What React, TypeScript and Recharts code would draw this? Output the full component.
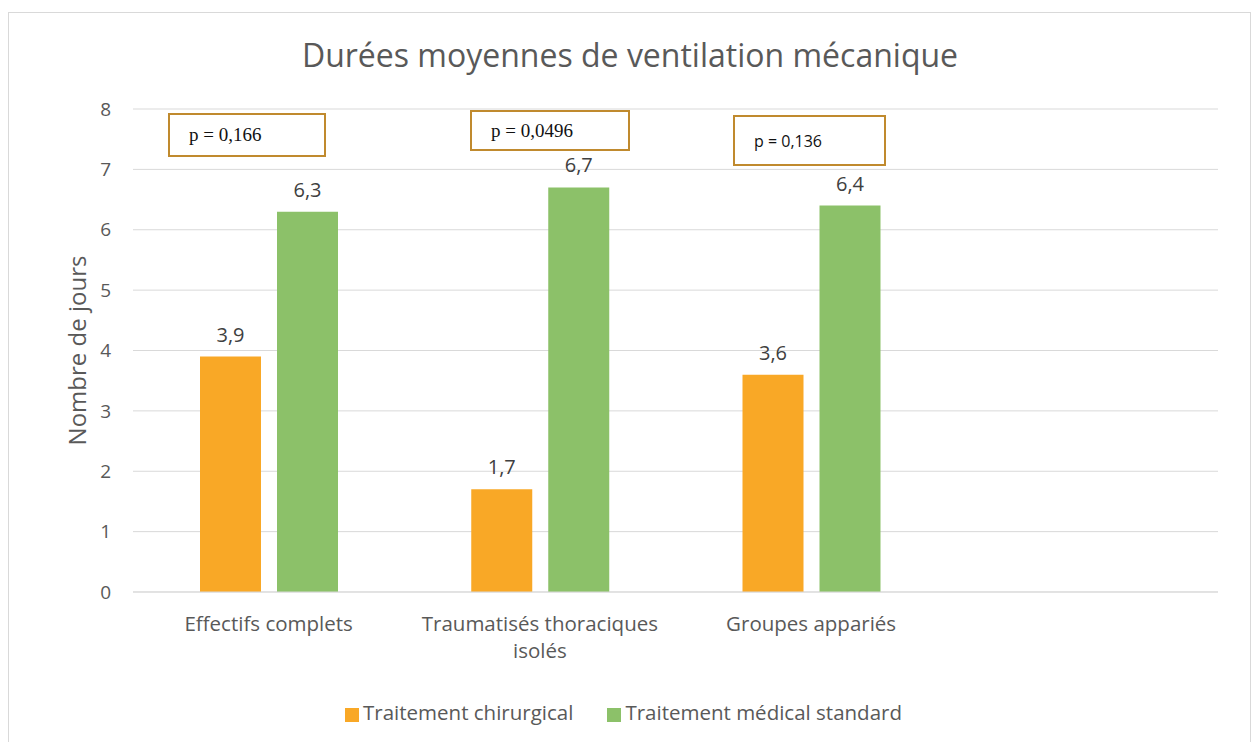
import {
  BarChart,
  Bar,
  XAxis,
  YAxis,
  CartesianGrid,
  Legend,
  LabelList,
  Label,
} from 'recharts';

// Données
const categories = ['Effectifs complets', 'Traumatisés thoraciques isolés', 'Groupes appariés', ''];
const chirurgical = [3.9, 1.7, 3.6, null];
const medicalStandard = [6.3, 6.7, 6.4, null];
const yTicks = [0, 1, 2, 3, 4, 5, 6, 7, 8];
const pValues = ['p = 0,166', 'p = 0,0496', 'p = 0,136'];

const FONT = '"Open Sans", "Noto Sans", sans-serif';
const GREY = '#595959';
const ORANGE = '#F9A826';
const GREEN = '#8CC169';

// emplacement des encadrés p (annotations posées à la main dans l'original)
const pBoxes = [
  { left: 168, top: 113, width: 158, height: 44, padLeft: 19, font: '"Liberation Serif", serif', size: 19 },
  { left: 470, top: 110, width: 160, height: 41, padLeft: 19, font: '"Liberation Serif", serif', size: 19 },
  { left: 733, top: 115, width: 153, height: 51, padLeft: 19, font: FONT, size: 16 },
];

const chartData = categories.map((name, i) => ({
  name,
  chir: chirurgical[i],
  med: medicalStandard[i],
}));

const fmt = (v: any) => (v == null ? '' : String(v).replace('.', ','));

function wrap(label: string, max = 24): string[] {
  const lines: string[] = [];
  let cur = '';
  label.split(' ').forEach((w) => {
    if (cur && (cur + ' ' + w).length > max) {
      lines.push(cur);
      cur = w;
    } else {
      cur = cur ? cur + ' ' + w : w;
    }
  });
  if (cur) lines.push(cur);
  return lines;
}

function CategoryTick({ x, y, payload }: any) {
  const lines = wrap(payload.value || '');
  return (
    <g>
      {lines.map((l, i) => (
        <text
          key={i}
          x={x}
          y={y + 31 + i * 27}
          textAnchor="middle"
          fill={GREY}
          fontSize={20.5}
          fontFamily={FONT}
        >
          {l}
        </text>
      ))}
    </g>
  );
}

export default function App() {
  return (
    <div style={{ position: 'absolute', left: 0, top: 0, width: 1256, height: 742, background: '#fff', overflow: 'hidden' }}>
      <div
        style={{
          position: 'absolute',
          left: 8,
          top: 12,
          width: 1241,
          height: 760,
          border: '1px solid #d9d9d9',
        }}
      />
      <div
        style={{
          position: 'absolute',
          left: 0,
          top: 33,
          width: 1260,
          textAlign: 'center',
          fontFamily: FONT,
          fontSize: 32,
          color: GREY,
        }}
      >
        Durées moyennes de ventilation mécanique
      </div>
      <BarChart
        width={1256}
        height={742}
        data={chartData}
        margin={{ top: 109, right: 38, bottom: 12, left: 63 }}
        barSize={61}
        barGap={16}
        style={{ position: 'absolute', left: 0, top: 0 }}
      >
        <CartesianGrid vertical={false} stroke="#d9d9d9" />
        <XAxis
          dataKey="name"
          height={106}
          tickLine={false}
          axisLine={{ stroke: '#d9d9d9' }}
          tick={<CategoryTick />}
          interval={0}
        />
        <YAxis
          width={70}
          domain={[0, 8]}
          ticks={yTicks}
          tickLine={false}
          axisLine={false}
          tickMargin={16}
          tick={{ fill: GREY, fontSize: 19, fontFamily: FONT }}
        >
          <Label
            value="Nombre de jours"
            angle={-90}
            position="insideLeft"
            offset={14}
            style={{ fill: GREY, fontSize: 24, fontFamily: FONT, textAnchor: 'middle' }}
          />
        </YAxis>
        <Legend
          verticalAlign="bottom"
          iconType="square"
          iconSize={14}
          wrapperStyle={{ height: 32, fontFamily: FONT, fontSize: 20.5 }}
          formatter={(value: string) => (
            <span style={{ color: GREY, marginRight: 24 }}>{value}</span>
          )}
        />
        <Bar dataKey="chir" name="Traitement chirurgical" fill={ORANGE} isAnimationActive={false}>
          <LabelList dataKey="chir" position="top" offset={15} formatter={fmt} style={{ fill: '#404040', fontSize: 20, fontFamily: FONT }} />
        </Bar>
        <Bar dataKey="med" name="Traitement médical standard" fill={GREEN} isAnimationActive={false}>
          <LabelList dataKey="med" position="top" offset={15} formatter={fmt} style={{ fill: '#404040', fontSize: 20, fontFamily: FONT }} />
        </Bar>
      </BarChart>
      {pValues.map((p, i) => {
        const b = pBoxes[i];
        return (
          <div
            key={p}
            style={{
              position: 'absolute',
              left: b.left,
              top: b.top,
              width: b.width,
              height: b.height,
              boxSizing: 'border-box',
              border: '2px solid #C08A2E',
              background: '#fff',
              display: 'flex',
              alignItems: 'center',
              paddingLeft: b.padLeft,
              fontFamily: b.font,
              fontSize: b.size,
              color: '#111',
            }}
          >
            {p}
          </div>
        );
      })}
    </div>
  );
}
